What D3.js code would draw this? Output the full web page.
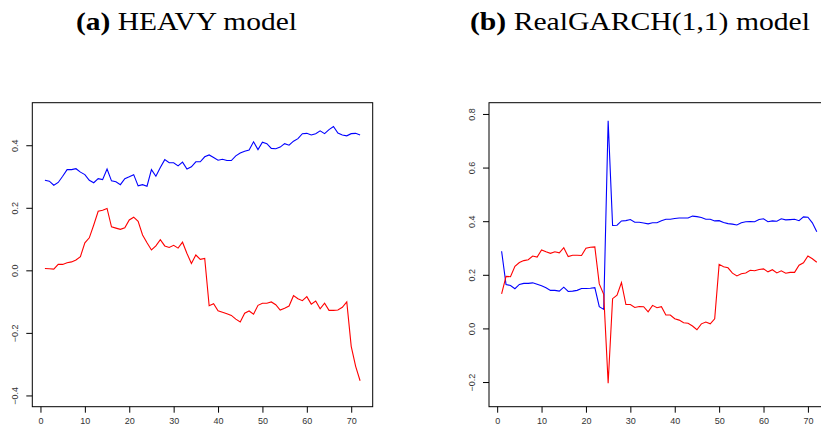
<!DOCTYPE html>
<meta charset="utf-8">
<style>
body { margin: 0; background: #fff; }
.tick text { font-family: "Liberation Sans", Arial, sans-serif; font-size: 9px; fill: #333; }
.title { font-family: "Liberation Serif", serif; font-size: 25px; fill: #000; }
</style>
<body>
<script src="https://d3js.org/d3.v7.min.js"></script>
<div id="chart"></div>
<script>

var idx = d3.range(1, 73);

// (a) HEAVY model
var heavyBlue = [0.288,0.285,0.272,0.281,0.301,0.322,0.322,0.325,0.314,0.306,0.288,0.28,0.293,0.29,0.324,0.286,0.283,0.274,0.293,0.299,
  0.306,0.27,0.274,0.269,0.322,0.301,0.329,0.354,0.344,0.344,0.334,0.346,0.324,0.331,0.347,0.347,0.363,0.369,0.361,0.352,
  0.355,0.351,0.351,0.366,0.375,0.381,0.385,0.411,0.386,0.41,0.405,0.39,0.389,0.394,0.405,0.40,0.413,0.421,0.437,0.438,
  0.433,0.437,0.446,0.437,0.45,0.46,0.439,0.433,0.43,0.437,0.438,0.433];
var heavyRed = [0.006,0.005,0.004,0.019,0.019,0.024,0.027,0.033,0.044,0.088,0.104,0.145,0.189,0.192,0.198,0.139,0.135,0.131,0.136,0.161,
  0.17,0.157,0.113,0.088,0.065,0.078,0.098,0.078,0.073,0.08,0.071,0.09,0.054,0.022,0.049,0.035,0.038,-0.113,-0.107,-0.129,
  -0.134,-0.139,-0.144,-0.156,-0.165,-0.137,-0.13,-0.14,-0.112,-0.105,-0.105,-0.101,-0.11,-0.127,-0.121,-0.114,-0.081,-0.091,-0.097,-0.084,
  -0.108,-0.098,-0.123,-0.105,-0.128,-0.128,-0.127,-0.118,-0.101,-0.243,-0.307,-0.353];

// (b) RealGARCH(1,1) model
var rgBlue = [0.288,0.164,0.16,0.148,0.164,0.168,0.168,0.17,0.165,0.159,0.152,0.142,0.142,0.139,0.154,0.138,0.139,0.142,0.149,0.149,
  0.15,0.152,0.081,0.071,0.775,0.384,0.385,0.401,0.402,0.406,0.396,0.396,0.393,0.39,0.394,0.394,0.402,0.407,0.407,0.41,
  0.412,0.412,0.412,0.419,0.417,0.414,0.407,0.407,0.401,0.402,0.395,0.391,0.389,0.386,0.394,0.398,0.399,0.398,0.406,0.409,
  0.398,0.401,0.40,0.409,0.405,0.406,0.407,0.402,0.416,0.415,0.394,0.361];
var rgRed = [0.129,0.194,0.193,0.232,0.246,0.253,0.256,0.27,0.266,0.293,0.286,0.28,0.286,0.282,0.301,0.268,0.273,0.273,0.272,0.299,
  0.303,0.304,0.166,0.127,-0.204,0.111,0.124,0.171,0.089,0.089,0.078,0.082,0.081,0.062,0.086,0.077,0.081,0.05,0.05,0.036,
  0.031,0.021,0.019,0.009,-0.005,0.017,0.024,0.017,0.036,0.239,0.23,0.226,0.206,0.196,0.204,0.207,0.217,0.215,0.22,0.222,
  0.211,0.219,0.207,0.215,0.206,0.209,0.209,0.236,0.245,0.27,0.26,0.247];

var xTicks = [0, 10, 20, 30, 40, 50, 60, 70];
var heavyYTicks = [-0.4, -0.2, 0.0, 0.2, 0.4];
var rgYTicks = [-0.2, 0.0, 0.2, 0.4, 0.6, 0.8];

var width = 821, height = 430;

var svg = d3.select("#chart").append("svg")
    .attr("width", width)
    .attr("height", height);

function panel(left, yDomain, yTicks, blue, red) {
  var x = d3.scaleLinear().domain([-1.84, 74.84]).range([left, left + 340.4]);
  var y = d3.scaleLinear().domain(yDomain).range([406.7, 102.7]);
  var g = svg.append("g");

  g.append("rect")
    .attr("x", x.range()[0]).attr("y", 102.7)
    .attr("width", 340.4).attr("height", 304)
    .attr("fill", "none").attr("stroke", "#000").attr("stroke-width", 1);

  var xa = g.append("g")
    .attr("transform", "translate(0,406.7)")
    .call(d3.axisBottom(x).tickValues(xTicks).tickSize(6).tickPadding(5).tickFormat(d3.format("d")));
  xa.select(".domain").remove();

  var ya = g.append("g")
    .attr("transform", "translate(" + left + ",0)")
    .call(d3.axisLeft(y).tickValues(yTicks).tickSize(6).tickFormat(d3.format(".1f")));
  ya.select(".domain").remove();
  ya.selectAll(".tick text")
    .attr("x", 0).attr("y", 0).attr("dy", null)
    .attr("text-anchor", "middle")
    .attr("transform", "translate(-14,0) rotate(-90)")
    .text(function(d) { return d3.format(".1f")(d).replace("-", "\u2212"); });

  var line = d3.line()
    .x(function(d, i) { return x(idx[i]); })
    .y(function(d) { return y(d); });

  g.append("path").datum(blue)
    .attr("d", line).attr("fill", "none").attr("stroke", "#0000ff").attr("stroke-width", 1.1);
  g.append("path").datum(red)
    .attr("d", line).attr("fill", "none").attr("stroke", "#ff0000").attr("stroke-width", 1.1);
}

panel(32.3, [-0.436, 0.536], heavyYTicks, heavyBlue, heavyRed);
panel(489, [-0.292, 0.842], rgYTicks, rgBlue, rgRed);

function title(xs, len, bold, rest) {
  var t = svg.append("text").attr("class", "title").attr("x", xs).attr("y", 30)
    .attr("textLength", len).attr("lengthAdjust", "spacingAndGlyphs");
  t.append("tspan").attr("font-weight", "bold").text(bold);
  t.append("tspan").text(" " + rest);
}
title(76, 221, "(a)", "HEAVY model");
title(470, 340, "(b)", "RealGARCH(1,1) model");

</script>
</body>
</html>
